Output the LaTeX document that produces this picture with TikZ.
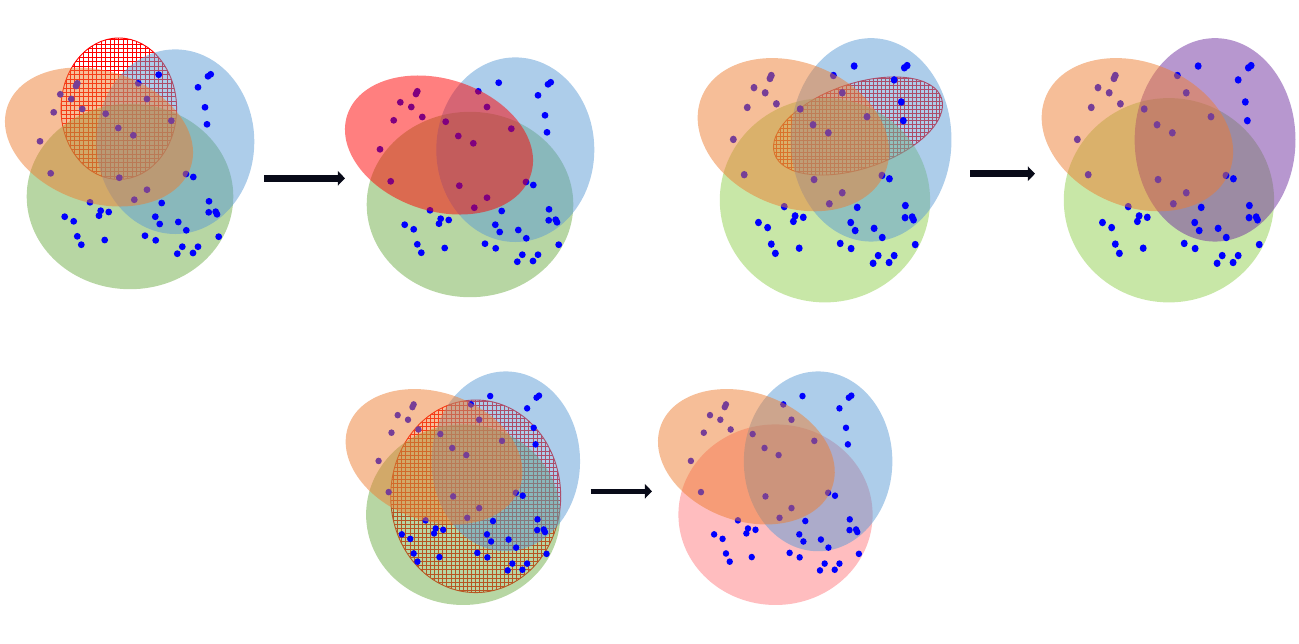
\documentclass[tikz,border=0pt]{standalone}
\usetikzlibrary{arrows.meta}
\definecolor{setorange}{HTML}{ED7D31}
\definecolor{setblue}{HTML}{5B9BD5}
\definecolor{setgreen}{HTML}{70AD47}
\definecolor{setlime}{HTML}{92D050}
\definecolor{setpurple}{HTML}{7030A0}
\definecolor{setpink}{RGB}{255,124,128}
\definecolor{dotblue}{HTML}{0000FF}
\tikzset{
  blob/.style={opacity=0.5},
  hatchline/.style={red, line width=0.45pt},
  pt/.style={fill=dotblue},
  fatarrow/.style={draw={rgb,255:red,8;green,10;blue,24}, line width=#1, -{Triangle[length=3.6pt,width=7.2pt]}},
}
\newcommand{\dotlist}{77.3/83.3, 76/86, 60.3/94.3, 71.3/99, 53.7/112.3, 82.3/109,
  138.3/83.3, 147/99, 105.7/113.7, 171.3/120.7, 118.3/128, 133.3/135.3, 40/141.3,
  50.7/173.3, 119.3/177.7, 147/189.7, 134.3/199.7, 90/202.3, 186/174,
  158.7/74.7, 210.7/74.3, 208/76.3, 198/87.3, 205/107.3, 207/124.3, 193.3/177,
  161.7/203, 209/201.3, 208.7/212.3, 215.7/211.7, 217/214.3, 155.3/216.7,
  159.7/224, 178.3/222, 186.3/230.3, 218.7/236.7, 145/235.7, 155.7/240.3,
  182.3/246.7, 198/246.7, 177.3/253.7, 193/253, 64.7/216.7, 73.7/221.3,
  100.7/210.7, 99/215.7, 108.7/212, 77.3/236.3, 81.3/244.7, 104.7/240}
\newcommand{\vennpanel}[4]{%
  \begin{scope}[#1]
    \fill[blob, #2] (130,196.5) ellipse [x radius=103.3, y radius=92.7];
    \fill[blob, #3] (175.3,141.7) ellipse [x radius=79, y radius=92.3];
    \foreach \px/\py in \dotlist
      \fill[pt] (\px,\py) circle (3.4);
    \fill[blob, #4] (99,137) ellipse [x radius=96.5, y radius=66, rotate=-18];
  \end{scope}}
\begin{document}
\begin{tikzpicture}[x=0.5pt, y=-0.5pt]
\useasboundingbox (0,0) rectangle (1299,643);

\begin{scope}
  \clip (118.8,108.7) ellipse [x radius=57.8, y radius=70.7];
  \draw[hatchline, step=2.2pt] (55,185) grid (185,30);
\end{scope}
\draw[hatchline] (118.8,108.7) ellipse [x radius=57.8, y radius=70.7];
\vennpanel{}{setgreen}{setblue}{setorange}

\vennpanel{shift={(340,8)}}{setgreen}{setblue}{red}

\begin{scope}
  \clip (858,126) ellipse [x radius=88, y radius=42.5, rotate=18.5];
  \draw[hatchline, step=1.95pt] (765,185) grid (950,70);
\end{scope}
\draw[hatchline] (858,126) ellipse [x radius=88, y radius=42.5, rotate=18.5];
\vennpanel{shift={(692.6,-16.3)}, xscale=1.018, yscale=1.102}{setlime}{setblue}{setorange}

\vennpanel{shift={(1036.6,-16.3)}, xscale=1.018, yscale=1.102}{setlime}{setpurple}{setorange}

\begin{scope}
  \clip (475.7,496.3) ellipse [x radius=85, y radius=96.3];
  \draw[hatchline, step=2.05pt] (385,600) grid (565,395);
\end{scope}
\draw[hatchline] (475.7,496.3) ellipse [x radius=85, y radius=96.3];
\vennpanel{shift={(341,323.3)}, xscale=0.94, yscale=0.974}{setgreen}{setblue}{setorange}

\vennpanel{shift={(653.3,323.3)}, xscale=0.94, yscale=0.974}{setpink}{setblue}{setorange}

\coordinate (arrA-s) at (264,178.3);
\coordinate (arrA-e) at (345,178.3);
\coordinate (arrB-s) at (970,173.7);
\coordinate (arrB-e) at (1035,173.7);
\coordinate (arrC-s) at (590.7,491.3);
\coordinate (arrC-e) at (652,491.3);
\draw[fatarrow=3.5pt] (arrA-s) -- (arrA-e);
\draw[fatarrow=3.5pt] (arrB-s) -- (arrB-e);
\draw[fatarrow=2.8pt] (arrC-s) -- (arrC-e);
\end{tikzpicture}
\end{document}
